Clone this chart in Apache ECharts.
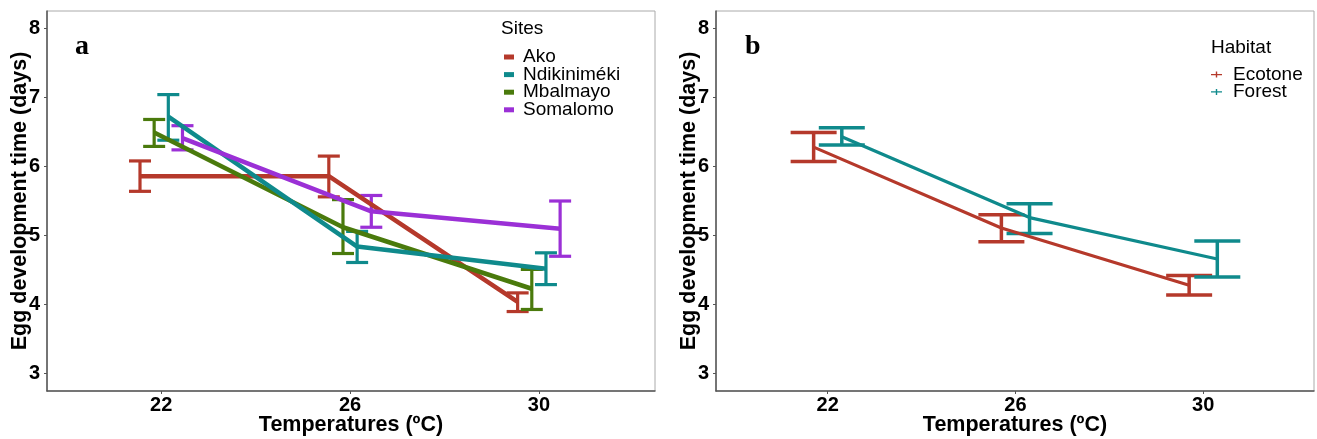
<!DOCTYPE html>
<html>
<head>
<meta charset="utf-8">
<script src="https://cdn.jsdelivr.net/npm/echarts@6/dist/echarts.min.js"></script>
<style>
html,body{margin:0;padding:0;background:#fff;}
#chart{width:1317px;height:439px;}
</style>
</head>
<body>
<div id="chart"></div>
<script>
// ---------- data ----------
const temps = [22, 26, 30];
const yTicks = [3, 4, 5, 6, 7, 8];
const xTicks = [22, 26, 30];

// Panel a: sites
const sites = ['Ako', 'Ndikiniméki', 'Mbalmayo', 'Somalomo'];
const akoMean  = [5.86, 5.86, 4.04];
const akoLow   = [5.64, 5.56, 3.90];
const akoHigh  = [6.08, 6.15, 4.17];
const ndikMean = [6.72, 4.84, 4.52];
const ndikLow  = [6.38, 4.61, 4.29];
const ndikHigh = [7.04, 5.06, 4.75];
const mbalMean = [6.49, 5.12, 4.23];
const mbalLow  = [6.29, 4.74, 3.93];
const mbalHigh = [6.68, 5.52, 4.51];
const somaMean = [6.41, 5.35, 5.10];
const somaLow  = [6.24, 5.12, 4.70];
const somaHigh = [6.59, 5.58, 5.50];

// Panel b: habitat
const habitats = ['Ecotone', 'Forest'];
const ecoMean = [6.28, 5.11, 4.28];
const ecoLow  = [6.07, 4.91, 4.14];
const ecoHigh = [6.49, 5.30, 4.42];
const forMean = [6.43, 5.26, 4.66];
const forLow  = [6.31, 5.03, 4.40];
const forHigh = [6.56, 5.46, 4.92];

// ---------- styling ----------
const FONT = "'Liberation Sans', Arial, sans-serif";
const RED = '#B5392B', TEAL = '#0F8A8C', GREEN = '#4A7A0C', PURPLE = '#9B30D6';

const seriesA = [
  {name: 'Ako', mean: akoMean, low: akoLow, high: akoHigh, color: RED, dodge: -0.45},
  {name: 'Mbalmayo', mean: mbalMean, low: mbalLow, high: mbalHigh, color: GREEN, dodge: -0.15},
  {name: 'Ndikiniméki', mean: ndikMean, low: ndikLow, high: ndikHigh, color: TEAL, dodge: 0.15},
  {name: 'Somalomo', mean: somaMean, low: somaLow, high: somaHigh, color: PURPLE, dodge: 0.45}
];
const seriesB = [
  {name: 'Ecotone', mean: ecoMean, low: ecoLow, high: ecoHigh, color: RED, dodge: -0.3},
  {name: 'Forest', mean: forMean, low: forLow, high: forHigh, color: TEAL, dodge: 0.3}
];

function errRender(capHalf, width) {
  return function (params, api) {
    const x = api.value(0);
    const lo = api.coord([x, api.value(1)]);
    const hi = api.coord([x, api.value(2)]);
    const style = {stroke: api.visual('color'), lineWidth: width};
    return {
      type: 'group',
      children: [
        {type: 'line', shape: {x1: lo[0], y1: lo[1], x2: hi[0], y2: hi[1]}, style: style},
        {type: 'line', shape: {x1: lo[0] - capHalf, y1: lo[1], x2: lo[0] + capHalf, y2: lo[1]}, style: style},
        {type: 'line', shape: {x1: hi[0] - capHalf, y1: hi[1], x2: hi[0] + capHalf, y2: hi[1]}, style: style}
      ]
    };
  };
}

function buildSeries(list, idx, lineW, errW, capHalf) {
  const out = [];
  list.forEach(s => {
    out.push({
      type: 'custom', name: s.name, xAxisIndex: idx, yAxisIndex: idx,
      itemStyle: {color: s.color},
      renderItem: errRender(capHalf, errW),
      data: temps.map((t, i) => [t + s.dodge, s.low[i], s.high[i]]),
      z: 2
    });
  });
  list.forEach(s => {
    out.push({
      type: 'line', name: s.name, xAxisIndex: idx, yAxisIndex: idx,
      showSymbol: false, symbol: 'none',
      lineStyle: {color: s.color, width: lineW},
      itemStyle: {color: s.color},
      data: temps.map((t, i) => [t + s.dodge, s.mean[i]]),
      z: 3
    });
  });
  return out;
}

function xAx(idx, min, max) {
  return {
    type: 'value', gridIndex: idx, min: min, max: max,
    name: 'Temperatures (ºC)', nameLocation: 'middle', nameGap: 23, nameMoveOverlap: false,
    nameTextStyle: {fontFamily: FONT, fontWeight: 'bold', fontSize: 21.5, color: '#000'},
    axisLine: {show: true, lineStyle: {color: '#555', width: 1.5}},
    axisTick: {show: true, length: 3, lineStyle: {color: '#555'}, customValues: xTicks},
    axisLabel: {fontFamily: FONT, fontWeight: 'bold', fontSize: 20, color: '#000', margin: 4, customValues: xTicks},
    splitLine: {show: false}
  };
}
function yAx(idx) {
  return {
    type: 'value', gridIndex: idx, min: 2.75, max: 8.25,
    name: 'Egg development time (days)', nameLocation: 'middle', nameGap: 16, nameRotate: 90, nameMoveOverlap: false,
    nameTextStyle: {fontFamily: FONT, fontWeight: 'bold', fontSize: 21.5, color: '#000'},
    axisLine: {show: true, lineStyle: {color: '#555', width: 1.5}},
    axisTick: {show: true, length: 3, lineStyle: {color: '#555'}, customValues: yTicks},
    axisLabel: {fontFamily: FONT, fontWeight: 'bold', fontSize: 20, color: '#000', margin: 7, customValues: yTicks},
    splitLine: {show: false}
  };
}

const legendTextStyle = {fontFamily: FONT, fontSize: 19, color: '#000'};

const option = {
  backgroundColor: '#fff',
  animation: false,
  grid: [
    {left: 47, top: 11, width: 608, height: 380, show: true, borderColor: '#aaa', borderWidth: 1,
     containLabel: false, outerBoundsMode: 'none'},
    {left: 716, top: 11, width: 598, height: 380, show: true, borderColor: '#aaa', borderWidth: 1,
     containLabel: false, outerBoundsMode: 'none'}
  ],
  xAxis: [xAx(0, 19.58, 32.46), xAx(1, 19.62, 32.36)],
  yAxis: [yAx(0), yAx(1)],
  legend: [
    {
      orient: 'vertical', left: 504, top: 47.5, itemGap: -1.4,
      itemWidth: 10, itemHeight: 5, icon: 'rect',
      data: sites, textStyle: Object.assign({padding: [0, 0, 0, 4]}, legendTextStyle), padding: 0
    },
    {
      orient: 'vertical', left: 1211, top: 65, itemGap: -1.6,
      itemWidth: 11, itemHeight: 6,
      icon: 'path://M0,2.4h11v1.3H0z M4.8,0h1.4v6h-1.4z',
      data: habitats, textStyle: Object.assign({padding: [0, 0, 0, 6]}, legendTextStyle), padding: 0
    }
  ],
  graphic: [
    {type: 'text', left: 501, top: 19, style: {text: 'Sites', font: '19px ' + FONT, fill: '#000'}},
    {type: 'text', left: 1211, top: 38, style: {text: 'Habitat', font: '19px ' + FONT, fill: '#000'}},
    {type: 'text', left: 75, top: 33, style: {text: 'a', font: 'bold 28px "Liberation Serif", "Times New Roman", serif', fill: '#000'}},
    {type: 'text', left: 745, top: 33, style: {text: 'b', font: 'bold 28px "Liberation Serif", "Times New Roman", serif', fill: '#000'}}
  ],
  series: [].concat(
    buildSeries(seriesA, 0, 4.5, 3.2, 11),
    buildSeries(seriesB, 1, 3.2, 3.5, 23)
  )
};

const chart = echarts.init(document.getElementById('chart'), null, {renderer: 'canvas'});
chart.setOption(option);
</script>
</body>
</html>
